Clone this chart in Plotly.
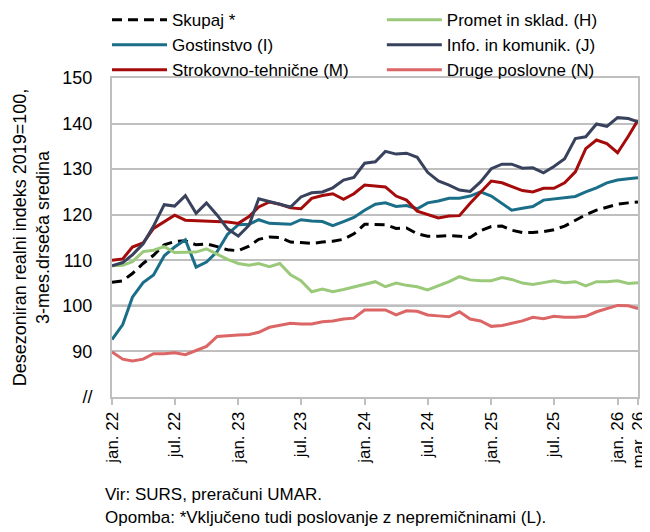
import pandas as pd
import plotly.graph_objects as go

# monthly, jan 2022 - mar 2026
months = pd.date_range("2022-01-01", "2026-03-01", freq="MS")

skupaj = [105.2, 105.5, 107.1, 109.3, 111.1, 113.4, 114.1, 114.3, 113.4, 113.6,
          113.0, 112.3, 112.1, 113.1, 114.6, 115.1, 115.0, 114.0, 113.9, 113.7,
          114.0, 114.2, 114.6, 115.8, 117.9, 117.9, 117.8, 117.0, 117.1, 115.8,
          115.3, 115.3, 115.4, 115.3, 115.0, 116.5, 117.4, 117.5, 116.6, 116.1,
          116.1, 116.3, 116.7, 117.5, 118.8, 120.0, 121.0, 121.6, 122.3, 122.6, 122.8]
promet = [108.8, 108.9, 109.7, 111.9, 112.2, 113.0, 111.7, 111.7, 111.8, 112.5,
          111.4, 110.2, 109.3, 108.9, 109.3, 108.6, 109.3, 106.8, 105.5, 103.1,
          103.7, 103.1, 103.6, 104.2, 104.7, 105.3, 104.2, 105.0, 104.5, 104.2,
          103.5, 104.4, 105.3, 106.4, 105.7, 105.5, 105.5, 106.2, 105.8, 105.0,
          104.7, 105.1, 105.5, 105.1, 105.3, 104.4, 105.3, 105.3, 105.5, 104.9, 105.1]
gostinstvo = [92.6, 95.9, 101.9, 105.1, 106.8, 111.0, 112.9, 114.5, 108.5, 109.6,
              111.9, 115.7, 117.8, 117.9, 118.9, 118.1, 118.0, 117.9, 118.9, 118.6,
              118.5, 117.6, 118.5, 119.4, 121.0, 122.3, 122.6, 121.8, 122.0, 121.3,
              122.6, 123.0, 123.6, 123.6, 124.1, 125.0, 124.1, 122.4, 121.0, 121.4,
              121.8, 123.2, 123.5, 123.7, 124.0, 125.0, 125.9, 127.0, 127.6, 127.9, 128.1]
info = [108.8, 109.5, 111.2, 113.6, 117.5, 122.2, 121.9, 124.2, 120.3, 122.6,
        119.9, 116.9, 115.3, 117.7, 123.5, 122.9, 122.3, 121.7, 123.9, 124.8,
        125.0, 125.9, 127.6, 128.2, 131.3, 131.6, 133.9, 133.3, 133.5, 132.6,
        129.3, 127.4, 126.5, 125.4, 125.1, 127.2, 130.1, 131.1, 131.1, 130.2,
        130.3, 129.2, 130.6, 132.3, 136.7, 137.1, 139.9, 139.4, 141.3, 141.1, 140.4]
strokovno = [110.0, 110.3, 112.9, 113.8, 117.0, 118.5, 119.9, 118.8, 118.7, 118.6,
             118.5, 118.4, 118.1, 119.6, 121.7, 122.8, 122.3, 121.5, 121.3, 123.6,
             124.2, 124.6, 123.4, 124.6, 126.5, 126.3, 126.1, 124.1, 123.2, 120.8,
             120.0, 119.3, 119.7, 119.8, 122.5, 125.0, 127.4, 127.0, 126.2, 125.3,
             125.0, 125.8, 125.8, 127.0, 129.4, 134.5, 136.4, 135.6, 133.6, 137.2, 140.8]
druge = [89.9, 88.3, 87.9, 88.3, 89.5, 89.5, 89.7, 89.3, 90.2, 91.1,
         93.3, 93.5, 93.6, 93.7, 94.2, 95.3, 95.8, 96.2, 96.0, 96.0,
         96.5, 96.7, 97.1, 97.3, 99.1, 99.1, 99.1, 98.0, 98.9, 98.8,
         98.0, 97.8, 97.6, 98.7, 97.1, 96.7, 95.5, 95.7, 96.2, 96.7,
         97.5, 97.2, 97.7, 97.5, 97.5, 97.7, 98.7, 99.4, 100.1, 100.0, 99.4]

x_tickvals = ["2022-01-01", "2022-07-01", "2023-01-01", "2023-07-01", "2024-01-01",
              "2024-07-01", "2025-01-01", "2025-07-01", "2026-01-01", "2026-03-01"]
x_ticktext = ["jan. 22", "jul. 22", "jan. 23", "jul. 23", "jan. 24",
              "jul. 24", "jan. 25", "jul. 25", "jan. 26", "mar. 26"]
y_tickvals = [80, 90, 100, 110, 120, 130, 140, 150]
y_ticktext = ["//", "90", "100", "110", "120", "130", "140", "150"]

# (name, values, colour, dash, legend column)
series = [
    ("Skupaj *", skupaj, "#000000", "10px,6px", "legend"),
    ("Gostinstvo (I)", gostinstvo, "#1b6e88", "solid", "legend"),
    ("Strokovno-tehnične (M)", strokovno, "#a50b0b", "solid", "legend"),
    ("Promet in sklad. (H)", promet, "#9bc97a", "solid", "legend2"),
    ("Info. in komunik. (J)", info, "#38425c", "solid", "legend2"),
    ("Druge poslovne (N)", druge, "#dc6565", "solid", "legend2"),
]

fig = go.Figure()
for name, vals, col, dash, leg in series:
    fig.add_trace(go.Scatter(
        x = months,
        y = vals,
        name = name,
        mode = "lines",
        legend = leg,
        line = dict(color = col, width = 3, dash = dash)
    ))

fig.add_shape(type = "line", xref = "paper", x0 = 0, x1 = 1, yref = "y", y0 = 100, y1 = 100,
              line = dict(color = "#4b4f58", width = 2), layer = "below")

txtfont = "Liberation Sans, Arial, sans-serif"

leg_common = dict(
    orientation = "v",
    xanchor = "left",
    yanchor = "top",
    y = 1.238,
    itemwidth = 55,
    font = dict(family = txtfont, size = 17),
    bgcolor = "rgba(0,0,0,0)",
    traceorder = "normal",
)

# the page is drawn with an 8px body margin, so margins are shifted by 8px
fig.update_layout(
    width = 650,
    height = 532,
    margin = dict(l = 104, r = 20, t = 70, b = 143, autoexpand = False),
    plot_bgcolor = "white",
    paper_bgcolor = "white",
    font = dict(family = txtfont, color = "#000000"),
    showlegend = True,
    legend = dict(leg_common, x = -0.0095),
    legend2 = dict(leg_common, x = 0.513),
    xaxis = dict(
        tickvals = x_tickvals,
        ticktext = x_ticktext,
        tickangle = -90,
        tickfont = dict(size = 17),
        range = ["2022-01-01", "2026-03-01"],
        showgrid = False,
        showline = True, linecolor = "#bfbfbf", linewidth = 2, mirror = True,
        ticks = "outside", ticklen = 6, tickcolor = "#bfbfbf", tickwidth = 1.5,
    ),
    yaxis = dict(
        range = [80, 150],
        tickvals = y_tickvals,
        ticktext = y_ticktext,
        tickfont = dict(size = 18),
        ticklabelstandoff = 14,
        showgrid = True, gridcolor = "#bfbfbf", gridwidth = 1.5,
        showline = True, linecolor = "#bfbfbf", linewidth = 2, mirror = True,
        zeroline = False,
        ticks = "",
        title = dict(text = "Desezoniran realni indeks 2019=100,<br>3-mes.drseča sredina",
                     font = dict(size = 18), standoff = 8),
    ),
)

fig.add_annotation(x = 0, y = -0.307, xref = "paper", yref = "paper", xanchor = "left",
                   yanchor = "middle", showarrow = False, align = "left",
                   text = "Vir: SURS, preračuni UMAR.",
                   font = dict(family = txtfont, size = 17), xshift = -9)
fig.add_annotation(x = 0, y = -0.379, xref = "paper", yref = "paper", xanchor = "left",
                   yanchor = "middle", showarrow = False, align = "left",
                   text = "Opomba: *Vključeno tudi poslovanje z nepremičninami (L).",
                   font = dict(family = txtfont, size = 17), xshift = -9)

fig.write_html("out.html")
